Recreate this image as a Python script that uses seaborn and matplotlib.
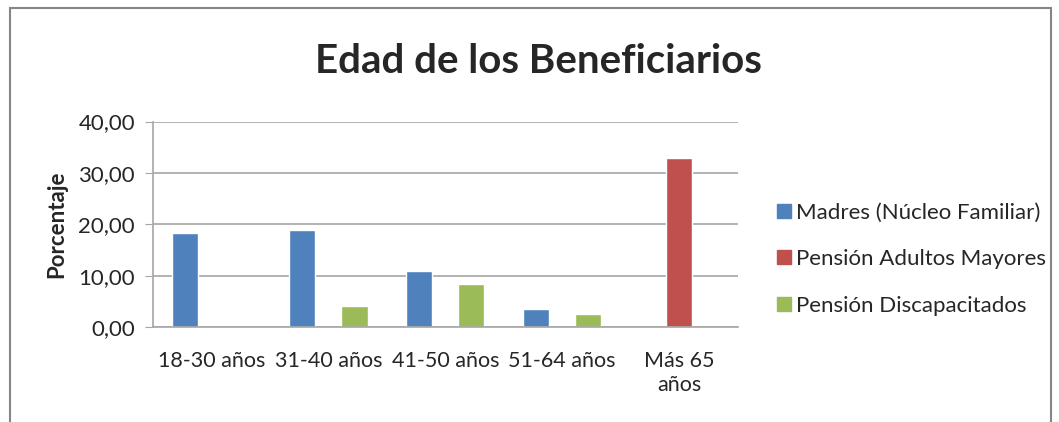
import pandas as pd
import seaborn as sns
import matplotlib.pyplot as plt
from matplotlib.ticker import FuncFormatter
from matplotlib.patches import Rectangle

# datos
categorias = ["18-30 años", "31-40 años", "41-50 años", "51-64 años", "Más 65\naños"]
series = ["Madres (Núcleo Familiar)", "Pensión Adultos Mayores", "Pensión Discapacitados"]
madres = [18.4, 18.85, 10.85, 3.6, 0.0]
adultos_mayores = [0.0, 0.0, 0.0, 0.0, 32.9]
discapacitados = [0.0, 4.0, 8.35, 2.6, 0.0]
colores = ["#4F81BD", "#C0504D", "#9BBB59"]

df = pd.DataFrame({
    "Edad": categorias * 3,
    "Serie": [series[0]] * 5 + [series[1]] * 5 + [series[2]] * 5,
    "Porcentaje": madres + adultos_mayores + discapacitados,
})

sns.set_style("white")
plt.rcParams["font.family"] = ["Lato", "DejaVu Sans"]

fig = plt.figure(figsize=(10.59, 4.22), dpi=100)
ax = fig.add_axes([0.1445, 0.225, 0.552, 0.487])

sns.barplot(data=df, x="Edad", y="Porcentaje", hue="Serie", palette=colores,
            width=0.67, ax=ax, legend=False, saturation=1)

ax.set_ylim(0, 40)
ax.set_yticks([0, 10, 20, 30, 40])
ax.yaxis.set_major_formatter(FuncFormatter(lambda v, p: f"{v:.2f}".replace(".", ",")))
ax.grid(axis="y", color="#A6A6A6", linewidth=1.2)
ax.set_axisbelow(True)
for s in ["top", "right"]:
    ax.spines[s].set_visible(False)
ax.spines["left"].set_color("#A6A6A6")
ax.spines["bottom"].set_color("#A6A6A6")
ax.spines["left"].set_linewidth(1.2)
ax.spines["bottom"].set_linewidth(1.2)
ax.tick_params(axis="y", left=True, length=6, color="#A6A6A6", labelsize=16, pad=7)
ax.tick_params(axis="x", bottom=False, labelsize=15.5, pad=14)
ax.set_xlabel("")
ax.set_ylabel("Porcentaje", fontsize=16, fontweight="bold", labelpad=8)

fig.text(0.508, 0.855, "Edad de los Beneficiarios", ha="center", va="center",
         fontsize=29, fontweight="bold")

handles = [Rectangle((0, 0), 1, 1, color=c) for c in colores]
fig.legend(handles, series, loc="center left", bbox_to_anchor=(0.715, 0.386),
           frameon=False, fontsize=16, handlelength=0.6, handleheight=0.6,
           handletextpad=0.25, labelspacing=1.2)

# marco del grafico
fig.add_artist(Rectangle((0.0095, -0.05), 0.983, 1.031, transform=fig.transFigure,
                         fill=False, edgecolor="#868686", linewidth=1.5))

fig.savefig("out.png", dpi=100, facecolor="white")
